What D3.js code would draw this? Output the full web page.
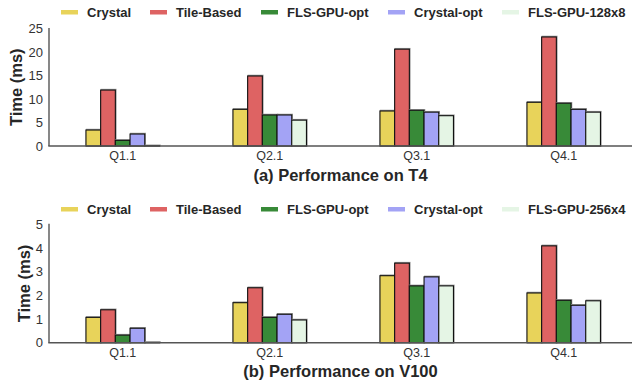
<!DOCTYPE html>
<html><head><meta charset="utf-8">
<script src="https://cdn.jsdelivr.net/npm/d3@7"></script>
<style>body{margin:0;background:#fff}svg{display:block}text{font-family:"Liberation Sans",Arial,sans-serif}</style>
</head><body><svg id="c" width="632" height="388"></svg>
<script>
const categories = ["Q1.1","Q2.1","Q3.1","Q4.1"];
const seriesTop = ["Crystal","Tile-Based","FLS-GPU-opt","Crystal-opt","FLS-GPU-128x8"];
const seriesBottom = ["Crystal","Tile-Based","FLS-GPU-opt","Crystal-opt","FLS-GPU-256x4"];
const colors = ["#e8d35a","#de6363","#388a38","#a3a3f5","#e5f5e5"];
// values per series, in category order
const t4Crystal = [3.4, 7.8, 7.45, 9.3];
const t4Tile = [11.9, 14.9, 20.6, 23.2];
const t4FlsOpt = [1.2, 6.6, 7.6, 9.1];
const t4CrystalOpt = [2.55, 6.6, 7.2, 7.8];
const t4Fls128 = [0.05, 5.5, 6.45, 7.2];
const v100Crystal = [1.07, 1.69, 2.83, 2.1];
const v100Tile = [1.39, 2.32, 3.36, 4.09];
const v100FlsOpt = [0.32, 1.07, 2.4, 1.79];
const v100CrystalOpt = [0.61, 1.2, 2.78, 1.58];
const v100Fls256 = [0.01, 0.96, 2.4, 1.77];
const yTicksTop = [0,5,10,15,20,25];
const yTicksBottom = [0,1,2,3,4,5];

const svg = d3.select("#c");

function panel(cfg){
  const g = svg.append("g");
  const x = d3.scaleBand().domain(categories).range([49.2, 637.2]).padding(0);
  const step = x.bandwidth();
  const inner = d3.scaleBand().domain(cfg.series).range([-step*0.25, step*0.25]).padding(0);
  const y = d3.scaleLinear().domain([0, cfg.yTicks[cfg.yTicks.length-1]]).range([cfg.y0, cfg.yTop]);
  // legend
  const lx = [61, 150, 261, 388, 502];
  cfg.series.forEach((s,i)=>{
    g.append("rect").attr("x",lx[i]).attr("y",cfg.legY-2).attr("width",17).attr("height",4.5).attr("fill",colors[i]);
    g.append("text").attr("x",lx[i]+26).attr("y",cfg.legY).attr("dy","0.35em")
      .attr("font-size",13).attr("font-weight","bold").attr("fill","#262626").text(s);
  });
  // bars
  cfg.values.forEach((vals,si)=>{
    categories.forEach((c,ci)=>{
      const bx = x(c)+step/2+inner(cfg.series[si]);
      const bw = inner.bandwidth();
      const top = y(vals[ci]);
      g.append("rect").attr("x",bx+0.6).attr("y",top-0.6).attr("width",bw).attr("height",Math.max(0,cfg.y0-top+0.6))
        .attr("fill","none").attr("stroke","#999").attr("stroke-width",1.3);
      g.append("rect").attr("x",bx).attr("y",top).attr("width",bw).attr("height",Math.max(0,cfg.y0-top))
        .attr("fill",colors[si]).attr("stroke","#111").attr("stroke-width",1.1);
    });
  });
  // spines
  g.append("line").attr("x1",49).attr("x2",49).attr("y1",cfg.yTop-0.5).attr("y2",cfg.y0).attr("stroke","#555").attr("stroke-width",1.4);
  g.append("line").attr("x1",48.3).attr("x2",632).attr("y1",cfg.y0).attr("y2",cfg.y0).attr("stroke","#555").attr("stroke-width",1.4);
  // y ticks
  const ya = d3.axisLeft(y).tickValues(cfg.yTicks).tickFormat(d3.format("d")).tickSize(0).tickPadding(6);
  const yg = g.append("g").attr("transform","translate(49,0)").call(ya);
  yg.select(".domain").remove();
  yg.selectAll("text").attr("font-size",13).attr("fill","#333").attr("font-family","Liberation Sans, Arial, sans-serif");
  // x ticks
  const xa = d3.axisBottom(x).tickSize(0).tickPadding(5);
  const xg = g.append("g").attr("transform",`translate(0,${cfg.y0})`).call(xa);
  xg.select(".domain").remove();
  xg.selectAll("text").attr("font-size",12.5).attr("fill","#333").attr("font-family","Liberation Sans, Arial, sans-serif");
  // y label
  g.append("text").attr("transform",`translate(${cfg.ylabX},${(cfg.y0+cfg.yTop)/2}) rotate(-90)`)
    .attr("text-anchor","middle").attr("dy","0.35em").attr("font-size",16.5).attr("font-weight","bold").attr("fill","#262626").text("Time (ms)");
  // title
  g.append("text").attr("x",340.5).attr("y",cfg.titleY).attr("dy","0.35em").attr("text-anchor","middle")
    .attr("font-size",16.5).attr("font-weight","bold").attr("fill","#262626").text(cfg.title);
}

panel({series:seriesTop, values:[t4Crystal,t4Tile,t4FlsOpt,t4CrystalOpt,t4Fls128], yTicks:yTicksTop,
  y0:146, yTop:28.5, legY:12, ylabX:16.5, titleY:175.5, title:"(a) Performance on T4"});
panel({series:seriesBottom, values:[v100Crystal,v100Tile,v100FlsOpt,v100CrystalOpt,v100Fls256], yTicks:yTicksBottom,
  y0:342.7, yTop:224.3, legY:209, ylabX:24, titleY:371.7, title:"(b) Performance on V100"});
</script></body></html>
